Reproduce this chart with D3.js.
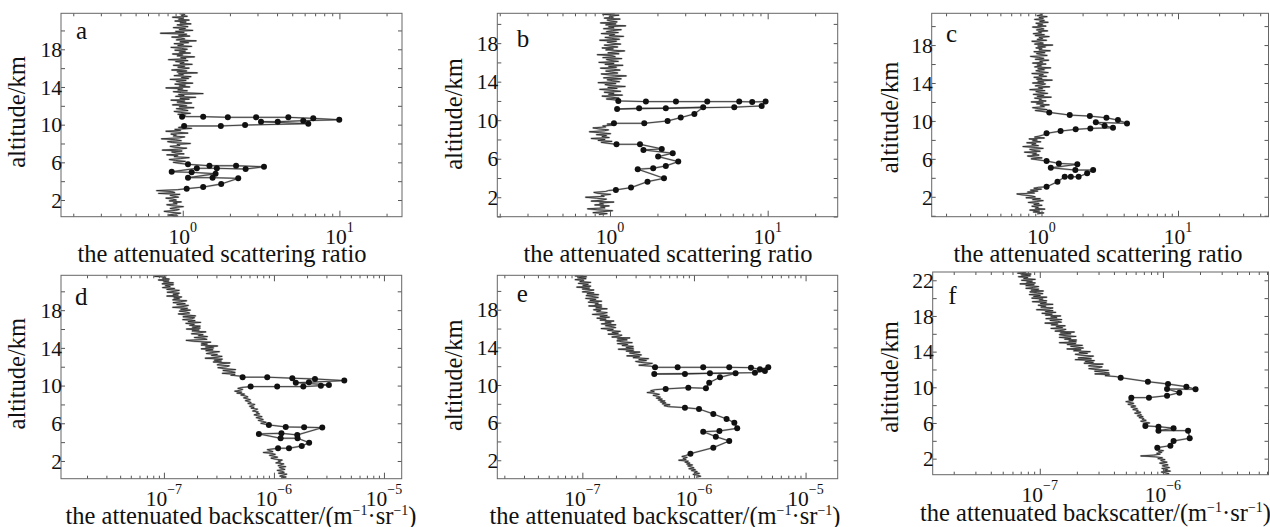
<!DOCTYPE html>
<html>
<head>
<meta charset="utf-8">
<script src="https://cdn.jsdelivr.net/npm/d3@7"></script>
<style>
body { margin: 0; background: #fff; }
svg text { font-family: "Liberation Serif", "Times New Roman", serif; fill: #111; }
</style>
</head>
<body>
<div id="chart"></div>
<script>
var gateKm = 0.1;   // vertical step of the clear-air profiles (km)

// clear-air parts of the profiles: [start altitude km, values every gateKm]
// scattering ratio (panels a-c)
var ratioA = [
  [0.2, [0.86,0.93,0.81,0.88,0.97,0.84,0.76,0.90,0.95,0.83,
         0.89,1.01,0.85,0.79,0.92,0.87,0.98,0.82,0.91,0.86,
         0.78,0.94,0.88,0.83,0.96,0.70,0.89,0.85,0.68,0.93]],
  [5.9, [0.95,0.87,1.04,0.90,0.82,0.97,1.10,0.88,0.93,0.79,
         1.02,0.91,0.85,0.99,0.74,0.94,1.06,0.89,0.83,0.96,
         0.92,1.12,0.86,0.80,0.98,0.90,0.73,0.95,1.03,0.87,
         0.91,0.84,1.08,0.93,0.78,0.97,0.89,1.14,0.94,1.01]],
  [11.0, [1.04,0.93,1.12,0.97,0.88,1.08,1.01,0.91,1.18,0.95,
          1.06,0.86,0.99,1.14,0.92,1.03,0.84,1.10,0.96,1.21,
          0.90,1.02,0.94,1.35,0.98,0.87,1.07,0.93,1.00,0.78,
          1.11,0.95,1.04,0.89,1.16,0.97,0.91,1.05,0.83,1.09,
          0.98,1.13,0.88,1.01,0.94,1.24,0.92,1.06,0.85,0.99,
          1.10,0.93,1.03,0.87,1.15,0.96,1.02,0.90,1.08,0.81,
          1.05,0.97,1.19,0.92,1.00,0.86,1.12,0.95,1.04,0.89,
          1.07,0.98,0.84,1.14,0.93,1.01,0.88,1.09,0.96,1.22,
          0.91,1.03,0.97,0.85,1.11,0.94,1.06,0.72,1.02,0.90,
          1.16,0.95,1.04,0.87,1.08,0.99,0.92,1.13,0.96,1.05,
          0.89,1.10,0.94,1.01,0.86,1.07,0.98,1.03,0.95]]
];
var ratioB = [
  [0.2, [0.85,0.96,0.78,0.90,1.04,0.83,0.72,0.93,0.87,0.99,
         0.80,0.91,0.86,1.06,0.76,0.89,0.95,0.82,0.70,0.92,
         0.88,1.01,0.84,0.79,0.94,0.98]],
  [7.6, [0.97,0.88,1.03,0.84,0.93,0.76,0.99,0.89,0.95,0.82,
         1.01,0.86,0.74,0.92,0.98,0.85,0.78,0.94,0.90,1.05,0.96]],
  [12.1, [1.08,0.95,1.14,1.01,0.89,1.20,0.98,1.06,0.92,1.17,
          1.03,0.86,1.11,0.97,1.25,1.00,0.93,1.09,0.84,1.15,
          1.04,0.96,1.18,0.91,1.07,1.27,0.99,0.88,1.12,1.02,
          0.94,1.16,1.05,0.87,1.10,0.98,1.21,0.93,1.06,0.85,
          1.13,1.01,0.95,1.19,0.90,1.08,1.03,0.83,1.14,0.97,
          1.09,1.24,0.94,1.05,0.89,1.12,1.00,0.92,1.17,1.04,
          0.96,1.10,0.86,1.15,1.02,0.93,1.22,0.99,1.07,0.88,
          1.13,0.95,1.04,1.18,0.91,1.06,0.98,1.26,0.94,1.09,
          0.87,1.11,1.01,0.96,1.16,0.92,1.05,0.99,1.14,0.90,
          1.07,1.02]]
];
var ratioC = [
  [0.2, [0.93,1.04,0.87,0.97,0.82,1.06,0.90,0.95,0.85,1.01,
         0.88,0.96,0.80,0.92,1.03,0.86,0.98,0.77,0.90,0.84,
         0.72,0.66,0.89,0.79,0.94,0.83,1.00,0.88,0.95]],
  [5.9, [0.94,0.84,1.01,0.88,0.79,0.96,0.86,0.92,0.75,0.98,
         0.87,0.82,1.03,0.90,0.73,0.95,0.85,0.91,0.78,0.99,
         0.86,0.93,0.81,1.05,0.89,0.96,1.02,1.07]],
  [11.0, [1.01,0.90,1.10,0.95,0.86,1.05,0.98,1.14,0.92,1.03,
          0.84,1.08,0.96,1.00,0.89,1.18,0.93,1.04,0.87,1.11,
          0.97,0.91,1.06,0.82,1.02,0.95,1.15,0.90,0.99,1.07,
          0.86,1.04,0.94,1.20,0.92,1.01,0.88,1.09,0.96,1.03,
          0.85,1.12,0.98,0.91,1.05,0.94,1.17,0.89,1.00,0.93,
          1.08,0.86,1.02,0.97,1.13,0.90,1.04,0.95,0.83,1.10,
          0.99,0.92,1.06,0.88,1.16,0.96,1.01,0.91,1.07,0.94,
          1.21,0.89,1.03,0.97,0.85,1.09,0.93,1.02,0.96,1.14,
          0.90,1.05,0.87,1.00,0.95,1.11,0.92,1.04,0.98,0.86,
          1.08,0.94,1.02,0.91,1.12,0.97,1.05,0.89,1.03,0.96,
          1.10,0.93,1.01,0.98,1.04]]
];
// attenuated backscatter in 1e-7 m^-1 sr^-1 (panels d-f)
var bscD = [
  [0.2, [11.6,12.9,11.3,12.2,13.1,11.0,12.4,11.8,10.7,12.6,
         11.9,11.2,12.8,10.9,11.6,12.3,10.4,11.5,10.9,11.9,
         10.2,9.4,10.8,10.0,9.1,10.3,9.6,8.0,9.8,9.2,8.7]],
  [5.9, [8.3,7.6,8.5,7.9,7.2,8.0,7.5,6.9,7.8,7.1,
         6.6,7.4,6.9,7.2,6.4,6.8,7.1,6.2,6.6,6.0,
         6.4,6.7,5.8,6.2,5.9,5.5,6.1,5.7,5.3,5.8,
         5.5,5.0,5.4,4.6,5.1,4.4,4.9,5.2,4.7,5.1]],
  [11.0, [4.97,4.05,4.43,3.39,4.44,4.03,3.44,4.49,3.50,3.09,
          3.71,3.93,3.05,3.23,4.00,2.81,3.33,2.87,3.40,2.37,
          3.04,3.38,2.70,3.06,2.43,2.70,3.20,2.40,2.79,2.18,
          2.83,2.39,3.08,2.18,2.48,2.19,2.67,1.87,1.59,2.46,
          2.31,1.89,2.49,2.06,2.27,1.78,2.09,2.41,1.80,2.09,
          1.60,2.14,1.81,2.14,1.71,1.89,1.58,2.16,1.66,1.92,
          1.48,1.79,1.90,1.49,1.94,1.58,1.35,1.71,1.60,1.38,
          1.74,1.42,1.64,1.20,1.53,1.67,1.31,1.56,1.21,1.41,
          1.61,1.20,1.39,1.23,1.45,1.06,1.35,1.21,1.38,1.07,
          1.24,1.38,1.06,1.25,0.97,1.14,1.03,1.22,0.96,1.22,
          0.99,1.11,0.89,1.12,0.97,1.04,0.82,1.06,0.88]]
];
var bscE = [
  [0.2, [10.4,11.5,10.9,9.8,11.2,10.1,10.7,9.5,10.3,9.0,
         10.0,9.4,8.8,9.7,8.6,9.2,8.3,8.9,7.3,8.5,
         8.0,8.7,7.8,8.4,8.9]],
  [7.7, [5.9,5.4,6.1,5.2,5.6,5.0,5.5,4.8,5.2,4.6,
         5.0,4.7,4.3,4.9,4.5,3.8,4.4,4.1,4.5]],
  [12.0, [4.10,3.21,3.77,4.24,3.31,3.00,3.75,3.21,3.92,2.85,
          3.26,2.50,3.38,2.99,2.65,3.28,2.47,2.88,2.10,2.87,
          2.47,2.86,2.27,2.55,2.06,2.80,2.26,2.04,2.52,2.06,
          2.67,1.84,2.15,2.26,1.70,2.10,1.85,2.19,1.68,1.89,
          1.47,1.99,1.86,1.61,2.00,1.48,1.81,1.60,1.92,1.44,
          1.63,1.35,1.75,1.44,1.67,1.23,1.56,1.67,1.34,1.46,
          1.26,1.67,1.32,1.49,1.14,1.49,1.30,1.39,1.13,1.49,
          1.17,1.32,1.07,1.39,1.25,1.08,1.40,1.10,1.27,1.00,
          1.15,1.27,1.00,1.16,0.89,1.19,1.01,1.13,0.92,1.19,
          0.95,1.03,0.86,1.08,0.92,1.09,0.86,1.00,0.90]]
];
var bscF = [
  [0.2, [10.1,11.2,10.6,9.7,11.5,10.3,10.9,9.8,11.3,10.5,
         9.9,11.0,10.2,9.4,10.8,10.0,9.6,10.4,9.1,9.9,
         8.7,6.6,8.4,9.5,8.9,9.8,9.2,10.1,8.8,9.4]],
  [5.8, [7.5,6.9,7.8,7.1,6.6,7.3,6.8,7.0,6.4,6.9,
         6.2,6.7,6.5,5.9,6.6,6.1,6.3,5.7,6.2,5.8,
         5.5,6.0,5.6,5.2,5.8,5.4,5.0,5.7,5.3,5.6]],
  [11.2, [4.18,3.39,3.69,2.80,3.66,3.29,2.79,3.62,2.80,2.50,
          3.03,3.21,2.49,2.64,3.27,2.29,2.72,2.34,2.78,1.94,
          2.62,2.05,2.42,2.73,2.14,1.94,2.44,2.09,2.57,1.88,
          2.16,1.66,2.26,2.01,1.78,2.22,1.67,1.96,1.44,1.98,
          1.72,1.99,1.59,1.79,1.44,1.97,1.60,1.44,1.79,1.47,
          1.91,1.33,1.55,1.63,1.23,1.53,1.36,1.61,1.24,1.40,
          1.10,1.50,1.40,1.21,1.51,1.12,1.38,1.23,1.48,1.11,
          1.26,1.04,1.35,1.11,1.28,0.94,1.19,1.28,1.02,1.12,
          0.97,1.28,1.01,1.13,0.87,1.14,0.99,1.06,0.86,1.14,
          0.89,1.01,0.82,1.06,0.96,0.83,1.07,0.85,0.98,0.77,
          0.89,0.98,0.77,0.90,0.69,0.92,0.78,0.87,0.71,0.92,
          0.74,0.80,0.67,0.84,0.71,0.85,0.66,0.77,0.70]]
];

// cloud layers with markers: [value, altitude km], in the order the profile runs upward
var cloudA = [
  [[1.06,3.2],[1.35,3.38],[1.76,3.70],[2.26,4.30],[1.55,4.37],[1.08,4.37],[1.62,4.79],[1.14,4.94],[0.85,5.0],
   [1.23,5.37],[1.65,5.37],[2.52,5.29],[3.30,5.53],[2.19,5.64],[1.48,5.64],[1.08,5.79]],
  [[1.02,9.86],[1.75,9.86],[2.5,9.96],[6.33,10.10],[3.16,10.31],[4.04,10.31],[5.88,10.42],[9.98,10.52],
   [6.81,10.67],[4.72,10.78],[2.94,10.78],[1.94,10.78],[1.35,10.85],[0.99,10.85]]
];
var cloudB = [
  [[1.09,2.76],[1.36,3.0],[1.73,3.62],[2.20,3.97],[1.50,4.91],[1.88,5.01],[2.26,5.25],[2.71,5.70],[2.02,6.22],
   [2.50,6.57],[1.63,6.91],[2.13,7.02],[1.55,7.50],[1.10,7.50]],
  [[1.06,9.68],[1.65,9.68],[2.32,9.92],[2.81,10.27],[3.43,10.65],[3.9,11.35],[2.26,11.24],[1.53,11.24],
   [1.11,11.16],[6.14,11.35],[9.16,11.48],[9.7,11.93],[7.98,11.9],[6.6,11.93],[4.14,11.93],[2.62,11.93],
   [1.69,11.93],[1.13,12.0]]
];
var cloudC = [
  [[1.09,3.05],[1.31,3.58],[1.48,4.11],[1.64,4.11],[1.87,4.11],[2.16,4.47],[2.39,4.82],[1.77,4.82],[1.17,5.06],
   [1.83,5.42],[1.34,5.52],[1.09,5.77]],
  [[1.09,8.69],[1.38,8.93],[1.78,9.11],[2.28,9.21],[3.34,9.28],[2.90,9.49],[2.50,9.85],[4.23,9.74],[3.63,10.09],
   [2.99,10.33],[2.26,10.51],[1.61,10.62],[1.14,10.90]]
];
var cloudD = [
  [[10.9,3.35],[13.7,3.35],[17.9,3.59],[20.9,3.94],[16.4,4.41],[11.5,4.41],[7.3,4.87],[11.7,4.94],[16.3,4.76],
   [27.5,5.54],[18.8,5.58],[12.8,5.61],[9.0,5.82]],
  [[6.14,9.89],[10.7,9.89],[18.5,9.89],[26.7,9.99],[31.6,10.07],[15.8,10.31],[20.8,10.35],[43.6,10.53],
   [23.6,10.70],[14.7,10.78],[8.69,10.89],[5.19,10.89]]
];
var cloudE = [
  [[9.3,2.7],[14.9,3.34],[20.7,4.05],[15.7,4.51],[12.1,5.04],[16.9,5.11],[24.4,5.40],[23.0,6.0],[19.6,6.39],
   [14.9,6.92],[11.1,7.45],[8.3,7.59]],
  [[5.58,9.58],[8.9,9.72],[12.8,9.65],[13.7,10.25],[17.1,10.82],[23.6,11.24],[13.9,11.24],[8.3,11.17],
   [4.41,11.17],[35.2,11.31],[43.2,11.49],[46.3,11.88],[39.0,11.67],[32.4,11.84],[20.7,11.88],[12.1,11.88],
   [7.14,11.88],[4.48,11.88]]
];
var cloudF = [
  [[9.0,3.23],[11.5,3.46],[12.2,3.98],[16.5,4.29],[16.0,5.14],[9.2,5.14],[12.2,5.41],[9.2,5.59],[7.2,5.67]],
  [[5.54,8.84],[7.7,8.84],[10.8,9.06],[13.6,9.40],[10.8,9.81],[18.4,9.78],[15.5,10.07],[11.0,10.37],
   [7.55,10.63],[4.54,11.08]]
];

var ratioTitle = ['the attenuated scattering ratio'];
var bscTitle = ['the attenuated backscatter/(m', '\u22121', '\u00b7sr', '\u22121', ')'];

var panels = [
  {letter:'a', bg:ratioA, clouds:cloudA, unit:1, l:61, r:402, t:13.3, b:216.7,
   xd:[0.167,25.1], yd:[0.23,21.82], xt:[1,10], title:ratioTitle,
   lx:76, ly:39.3, yx:25.3, yy:112, tx:222, ty:261.5},
  {letter:'b', bg:ratioB, clouds:cloudB, unit:1, l:497.3, r:837.7, t:13.3, b:216.7,
   xd:[0.193,27.8], yd:[-0.02,21.1], xt:[1,10], title:ratioTitle,
   lx:516.7, ly:46.7, yx:462, yy:114, tx:668, ty:261.5},
  {letter:'c', bg:ratioC, clouds:cloudC, unit:1, l:931.7, r:1268.5, t:13.3, b:216.7,
   xd:[0.157,46], yd:[-0.1,21.35], xt:[1,10], title:ratioTitle,
   lx:946, ly:41.7, yx:898, yy:117.5, tx:1098, ty:261.5},
  {letter:'d', bg:bscD, clouds:cloudD, unit:1e-7, l:61, r:401.7, t:275.3, b:478.7,
   xd:[1.16e-8,1.45e-5], yd:[0.12,21.7], xt:[1e-7,1e-6,1e-5], title:bscTitle,
   lx:75, ly:305.3, yx:25.3, yy:373.7, tx:241, ty:523.5},
  {letter:'e', bg:bscE, clouds:cloudE, unit:1e-7, l:497.3, r:837.7, t:275.3, b:478.7,
   xd:[1.73e-8,1.94e-5], yd:[0.04,21.66], xt:[1e-7,1e-6,1e-5], title:bscTitle,
   lx:516.7, ly:302, yx:462, yy:375.3, tx:665, ty:523.5},
  {letter:'f', bg:bscF, clouds:cloudF, unit:1e-7, l:932.7, r:1268.5, t:272, b:474.7,
   xd:[1.35e-8,7.2e-6], yd:[0.2,22.93], xt:[1e-7,1e-6], title:bscTitle,
   lx:948.3, ly:303.7, yx:898, yy:377, tx:1095.5, ty:520.5}
];

var svg = d3.select('#chart').append('svg')
    .attr('width', 1270)
    .attr('height', 527);

// clear-air segments with the cloud layers slotted in between them
function buildProfile(p) {
    var pts = [];
    p.bg.forEach(function(seg, j) {
        seg[1].forEach(function(v, i) {
            pts.push({v: v * p.unit, alt: seg[0] + i * gateKm, mark: false});
        });
        if (j < p.clouds.length) {
            p.clouds[j].forEach(function(c) {
                pts.push({v: c[0] * p.unit, alt: c[1], mark: true});
            });
        }
    });
    return pts;
}

function expLabel(v) {
    return String(Math.round(Math.log10(v))).replace('-', '\u2212');
}

panels.forEach(function(p, n) {
    var x = d3.scaleLog().domain(p.xd).range([p.l, p.r]);
    var y = d3.scaleLinear().domain(p.yd).range([p.b, p.t]);
    var g = svg.append('g');
    var pts = buildProfile(p);

    g.append('clipPath').attr('id', 'clip' + n)
        .append('rect')
        .attr('x', p.l).attr('y', p.t)
        .attr('width', p.r - p.l).attr('height', p.b - p.t);

    var line = d3.line()
        .x(function(d) { return x(d.v); })
        .y(function(d) { return y(d.alt); });

    var plot = g.append('g').attr('clip-path', 'url(#clip' + n + ')');
    plot.append('path')
        .datum(pts)
        .attr('d', line)
        .attr('fill', 'none')
        .attr('stroke', '#b4b4b4')
        .attr('stroke-width', 1.8)
        .attr('stroke-linejoin', 'round');
    plot.append('path')
        .datum(pts)
        .attr('d', line)
        .attr('fill', 'none')
        .attr('stroke', '#262626')
        .attr('stroke-width', 0.8);
    plot.selectAll('circle')
        .data(pts.filter(function(d) { return d.mark; }))
        .enter().append('circle')
        .attr('cx', function(d) { return x(d.v); })
        .attr('cy', function(d) { return y(d.alt); })
        .attr('r', 3)
        .attr('fill', '#111');

    // inward ticks on all four sides
    var xTicks = x.ticks();
    var isMajor = function(v) { return Math.abs(Math.log10(v) - Math.round(Math.log10(v))) < 1e-6; };
    var yTicks = y.ticks(10);
    [['bottom', p.b, 1], ['top', p.t, -1]].forEach(function(s) {
        g.append('g')
            .attr('transform', 'translate(0,' + s[1] + ')')
            .call((s[0] == 'bottom' ? d3.axisBottom(x) : d3.axisTop(x))
                .tickValues(xTicks).tickFormat('').tickSizeOuter(0)
                .tickSizeInner(-3))
            .call(function(a) {
                a.select('.domain').remove();
                a.selectAll('.tick line')
                    .attr('y2', function(d) { return (isMajor(d) ? -6 : -3) * s[2]; })
                    .attr('stroke', '#555');
            });
    });
    [['left', p.l], ['right', p.r]].forEach(function(s) {
        g.append('g')
            .attr('transform', 'translate(' + s[1] + ',0)')
            .call((s[0] == 'left' ? d3.axisLeft(y) : d3.axisRight(y))
                .tickValues(yTicks).tickFormat('').tickSizeOuter(0)
                .tickSizeInner(-4))
            .call(function(a) {
                a.select('.domain').remove();
                a.selectAll('.tick line').attr('stroke', '#555');
            });
    });

    g.append('rect')
        .attr('x', p.l).attr('y', p.t)
        .attr('width', p.r - p.l).attr('height', p.b - p.t)
        .attr('fill', 'none')
        .attr('stroke', '#666')
        .attr('stroke-width', 1);

    // y tick labels every 4 km
    g.selectAll('.ylab')
        .data(yTicks.filter(function(v) { return (v - 2) % 4 == 0; }))
        .enter().append('text')
        .attr('x', p.l + 1)
        .attr('y', function(d) { return y(d); })
        .attr('dy', '0.36em')
        .attr('text-anchor', 'end')
        .style('font-size', '21.5px')
        .text(function(d) { return d; });

    // x tick labels 10^n
    var xl = g.selectAll('.xlab')
        .data(p.xt)
        .enter().append('text')
        .attr('x', function(d) { return x(d); })
        .attr('y', p.b + 27.5)
        .attr('text-anchor', 'middle')
        .style('font-size', '21.5px');
    xl.append('tspan').text('10');
    xl.append('tspan')
        .attr('dy', -12)
        .style('font-size', '14px')
        .text(expLabel);

    // axis titles
    var tt = g.append('text')
        .attr('x', p.tx)
        .attr('y', p.ty)
        .attr('text-anchor', 'middle')
        .style('font-size', '24.5px');
    p.title.forEach(function(s, i) {
        var sp = tt.append('tspan').text(s);
        if (p.title.length > 1) {
            if (i % 2 == 1) sp.attr('dy', -9).style('font-size', '14px');
            else if (i > 0) sp.attr('dy', 9);
        }
    });

    g.append('text')
        .attr('transform', 'translate(' + p.yx + ',' + p.yy + ') rotate(-90)')
        .attr('text-anchor', 'middle')
        .style('font-size', '24.5px')
        .text('altitude/km');

    g.append('text')
        .attr('x', p.lx)
        .attr('y', p.ly)
        .style('font-size', '25px')
        .text(p.letter);
});
</script>
</body>
</html>
